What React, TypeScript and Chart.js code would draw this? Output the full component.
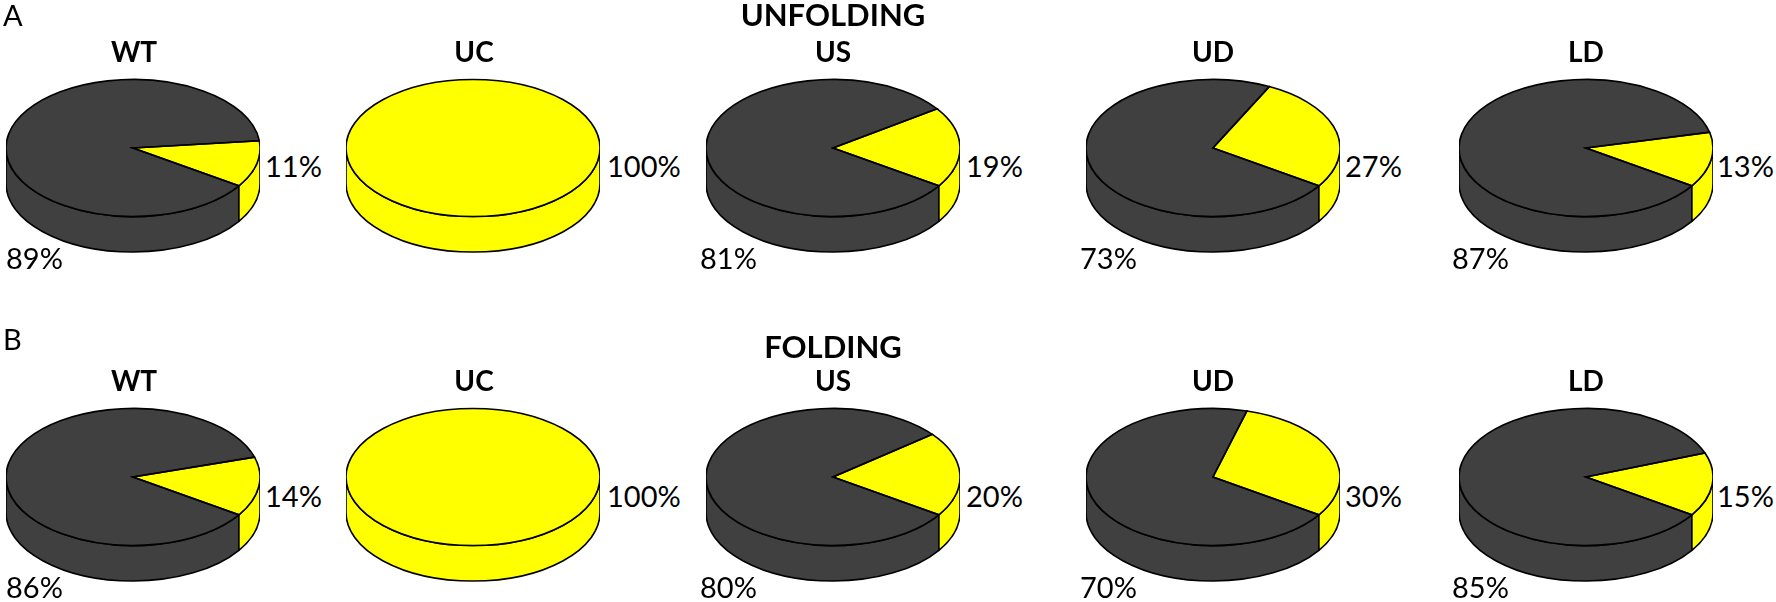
import React, { useEffect, useRef } from "react";
import { Chart, registerables } from "chart.js";

Chart.register(...registerables);

const pieNames = ["WT", "UC", "US", "UD", "LD"];
const unfoldingDark = [89, 0, 81, 73, 87];
const unfoldingYellow = [11, 100, 19, 27, 13];
const foldingDark = [86, 0, 80, 70, 85];
const foldingYellow = [14, 100, 20, 30, 15];

const DARK = "#404040";
const YELLOW = "#ffff00";
const FONT = "Lato, Carlito, Calibri, sans-serif";

const pieCentersX = [132.5, 473, 833, 1212.5, 1586];
const labelCentersX = [134, 474, 833, 1213, 1586];
const RX = 127;
const RY = 68.5;
const DEPTH = 35.5;
const ROTATION = 123.5;

const rightLabelX = [265, 607, 966, 1345, 1717];
const leftLabelX = [6, 6, 700, 1080, 1452];

type Row = {
  cy: number;
  title: string;
  titleY: number;
  letter: string;
  letterY: number;
  nameY: number;
  rightY: number;
  leftY: number;
  dark: number[];
  yellow: number[];
};

const rows: Row[] = [
  { cy: 147.5, title: "UNFOLDING", titleY: 14, letter: "A", letterY: 14, nameY: 51, rightY: 165, leftY: 257, dark: unfoldingDark, yellow: unfoldingYellow },
  { cy: 476.5, title: "FOLDING", titleY: 346, letter: "B", letterY: 338, nameY: 380, rightY: 495, leftY: 586, dark: foldingDark, yellow: foldingYellow },
];

const pie3d = {
  id: "pie3d",
  beforeDatasetsDraw(chart: any) {
    const ctx = chart.ctx;
    const arcs = chart.getDatasetMeta(0).data;
    arcs.forEach((el: any, i: number) => {
      const colors = chart.data.datasets[0].backgroundColor;
      const full = el.endAngle - el.startAngle >= 2 * Math.PI - 1e-6;
      const spans = full
        ? [[0, Math.PI]]
        : [
            [el.startAngle, el.endAngle],
            [el.startAngle - 2 * Math.PI, el.endAngle - 2 * Math.PI],
            [el.startAngle + 2 * Math.PI, el.endAngle + 2 * Math.PI],
          ];
      spans.forEach(([s, e]) => {
        const a = Math.max(s, 0);
        const b = Math.min(e, Math.PI);
        if (b <= a) return;
        const k = RY / el.outerRadius;
        ctx.save();
        ctx.beginPath();
        ctx.ellipse(el.x, el.y, el.outerRadius, el.outerRadius * k, 0, a, b);
        ctx.ellipse(el.x, el.y + DEPTH, el.outerRadius, el.outerRadius * k, 0, b, a, true);
        ctx.closePath();
        ctx.fillStyle = colors[i];
        ctx.fill();
        ctx.strokeStyle = "#000";
        ctx.lineWidth = 1.6;
        ctx.lineJoin = "round";
        ctx.stroke();
        ctx.restore();
      });
    });
  },
  beforeDatasetDraw(chart: any) {
    const ctx = chart.ctx;
    const el = chart.getDatasetMeta(0).data[0];
    ctx.save();
    ctx.translate(el.x, el.y);
    ctx.scale(1, RY / el.outerRadius);
    ctx.translate(-el.x, -el.y);
  },
  afterDatasetDraw(chart: any) {
    chart.ctx.restore();
  },
  afterDatasetsDraw(chart: any) {
    const ctx = chart.ctx;
    chart.getDatasetMeta(0).data.forEach((el: any) => {
      const span = el.endAngle - el.startAngle;
      if (span <= 0) return;
      const k = RY / el.outerRadius;
      ctx.save();
      ctx.beginPath();
      if (span >= 2 * Math.PI - 1e-6) {
        ctx.ellipse(el.x, el.y, el.outerRadius, el.outerRadius * k, 0, 0, 2 * Math.PI);
      } else {
        ctx.moveTo(el.x, el.y);
        ctx.ellipse(el.x, el.y, el.outerRadius, el.outerRadius * k, 0, el.startAngle, el.endAngle);
        ctx.closePath();
      }
      ctx.strokeStyle = "#000";
      ctx.lineWidth = 1.6;
      ctx.lineJoin = "miter";
      ctx.stroke();
      ctx.restore();
    });
  },
};

function Pie({ cx, cy, dark, yellow }: { cx: number; cy: number; dark: number; yellow: number }) {
  const ref = useRef<HTMLCanvasElement>(null);
  useEffect(() => {
    const chart = new Chart(ref.current as HTMLCanvasElement, {
      type: "pie",
      data: {
        labels: ["Dark", "Yellow"],
        datasets: [
          {
            data: [dark, yellow],
            backgroundColor: [DARK, YELLOW],
            borderWidth: 0,
            clip: false,
          } as any,
        ],
      },
      options: {
        responsive: false,
        animation: false,
        rotation: ROTATION,
        events: [],
        layout: { padding: 0 },
        plugins: { legend: { display: false }, tooltip: { enabled: false } },
      },
      plugins: [pie3d],
    } as any);
    return () => chart.destroy();
  }, [dark, yellow]);
  return (
    <canvas
      ref={ref}
      width={RX * 2}
      height={RX * 2}
      style={{ position: "absolute", left: cx - RX, top: cy - RX, width: RX * 2, height: RX * 2 }}
    />
  );
}

function Label(props: { x: number; y: number; center?: boolean; bold?: boolean; size: number; text: string }) {
  const { x, y, center, bold, size, text } = props;
  return (
    <div
      style={{
        position: "absolute",
        left: x,
        top: y,
        transform: center ? "translate(-50%, -50%)" : "translateY(-50%)",
        fontFamily: FONT,
        fontWeight: bold ? 700 : 400,
        fontSize: size,
        lineHeight: 1,
        color: "#000",
        whiteSpace: "nowrap",
        zIndex: 2,
      }}
    >
      {text}
    </div>
  );
}

export default function App() {
  return (
    <div style={{ position: "fixed", left: 0, top: 0, width: 1776, height: 602, overflow: "hidden", background: "#fff" }}>
      {rows.map((row) => (
        <React.Fragment key={row.title}>
          <Label x={3} y={row.letterY} size={29} text={row.letter} />
          <Label x={833} y={row.titleY} center bold size={31} text={row.title} />
          {pieNames.map((name, i) => (
            <React.Fragment key={name}>
              <Pie cx={pieCentersX[i]} cy={row.cy} dark={row.dark[i]} yellow={row.yellow[i]} />
              <Label x={labelCentersX[i]} y={row.nameY} center bold size={28} text={name} />
              <Label x={rightLabelX[i]} y={row.rightY} size={29} text={`${row.yellow[i]}%`} />
              {row.dark[i] > 0 && <Label x={leftLabelX[i]} y={row.leftY} size={29} text={`${row.dark[i]}%`} />}
            </React.Fragment>
          ))}
        </React.Fragment>
      ))}
    </div>
  );
}
